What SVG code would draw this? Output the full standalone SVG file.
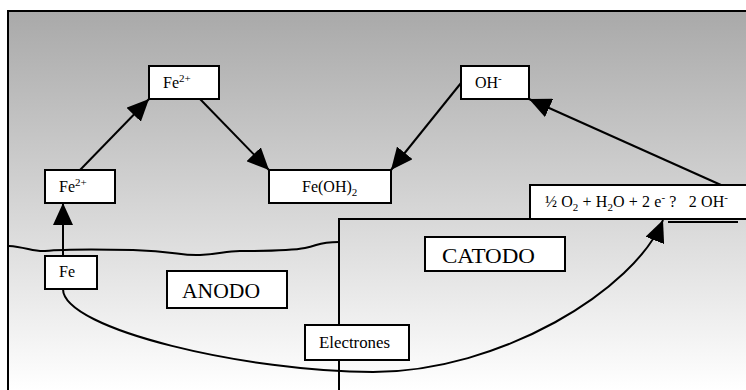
<svg xmlns="http://www.w3.org/2000/svg" width="746" height="390" viewBox="0 0 746 390">
<style>
.box{fill:#fff;stroke:#000;stroke-width:2}
.ln{fill:none;stroke:#000;stroke-width:2}
text{font-family:'Liberation Serif','DejaVu Serif',serif;font-size:16px;fill:#000;white-space:pre}
.big{font-size:21.5px}
.s{font-size:11px}
</style>
<defs>
<linearGradient id="bg" gradientUnits="userSpaceOnUse" x1="0" y1="11" x2="0" y2="390">
<stop offset="0" stop-color="#a9a9a9"/>
<stop offset="1" stop-color="#ffffff"/>
</linearGradient>
<marker id="ah" viewBox="0 0 22 20" refX="22" refY="10" markerWidth="22" markerHeight="20" markerUnits="userSpaceOnUse" orient="auto">
<path d="M0,0 L22,10 L0,20 z" fill="#000"/>
</marker>
</defs>
<rect id="frame" x="8" y="11" width="760" height="400" fill="url(#bg)" stroke="#000" stroke-width="2"/>
<path id="water" class="ln" d="M9,246 C25,247 35,252 45,251 S90,249 133,250 S180,256 200,255 S225,251 240,251 S290,251 305,248 S318,242 339,242"/>
<rect id="cathode-area" x="339" y="219" width="420" height="200" fill="none" stroke="#000" stroke-width="2"/>
<line x1="668" y1="222" x2="738" y2="222" stroke="#000" stroke-width="2"/>
<g id="connectors">
<line class="ln" x1="80" y1="170" x2="149" y2="99" marker-end="url(#ah)"/>
<line class="ln" x1="200" y1="99" x2="269" y2="170" marker-end="url(#ah)"/>
<line class="ln" x1="461" y1="83" x2="391" y2="170" marker-end="url(#ah)"/>
<line class="ln" x1="721" y1="185" x2="529" y2="99" marker-end="url(#ah)"/>
<line class="ln" x1="63" y1="256" x2="63" y2="203" marker-end="url(#ah)"/>
<path class="ln" d="M63,289 C63,330 250,372 373,372 C500,372 635,290 663,220" marker-end="url(#ah)"/>
</g>
<g id="fe2-top"><rect class="box" x="149" y="66" width="70" height="33"/><text x="163" y="88">Fe<tspan class="s" dy="-6">2+</tspan></text></g>
<g id="fe2-left"><rect class="box" x="45" y="170" width="70" height="33"/><text x="59" y="192">Fe<tspan class="s" dy="-6">2+</tspan></text></g>
<g id="feoh2"><rect class="box" x="269" y="170" width="122" height="33"/><text x="302" y="192">Fe(OH)<tspan class="s" dy="4">2</tspan></text></g>
<g id="oh"><rect class="box" x="461" y="66" width="68" height="33"/><text x="475" y="88">OH<tspan class="s" dy="-6">-</tspan></text></g>
<g id="equation"><rect class="box" x="530" y="185" width="230" height="34"/><text x="545" y="207" textLength="183" lengthAdjust="spacing">½ O<tspan class="s" dy="4">2</tspan><tspan dy="-4"> + H</tspan><tspan class="s" dy="4">2</tspan><tspan dy="-4">O + 2 e</tspan><tspan class="s" dy="-6">-</tspan><tspan dy="6"> ?   2 OH</tspan><tspan class="s" dy="-6">-</tspan></text></g>
<g id="fe"><rect class="box" x="45" y="256" width="52" height="33"/><text x="59" y="277">Fe</text></g>
<g id="anodo"><rect class="box" x="167" y="271" width="120" height="37"/><text class="big" x="182" y="298" textLength="78" lengthAdjust="spacingAndGlyphs">ANODO</text></g>
<g id="catodo"><rect class="box" x="425" y="237" width="140" height="34"/><text class="big" x="442" y="263" textLength="93" lengthAdjust="spacingAndGlyphs">CATODO</text></g>
<g id="electrones"><rect class="box" x="305" y="325" width="104" height="35"/><text x="319" y="348" textLength="71" lengthAdjust="spacingAndGlyphs">Electrones</text></g>
</svg>
